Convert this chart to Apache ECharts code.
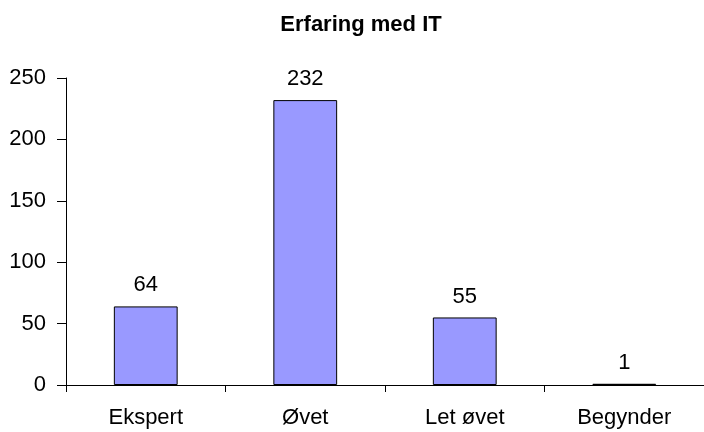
<!DOCTYPE html>
<html>
<head>
<meta charset="utf-8">
<script src="https://cdn.jsdelivr.net/npm/echarts@6/dist/echarts.min.js"></script>
<style>
  html, body { margin: 0; padding: 0; background: #fff; }
  #main { width: 704px; height: 432px; }
</style>
</head>
<body>
<div id="main"></div>
<script>
// data
const kategorier = ['Ekspert', 'Øvet', 'Let øvet', 'Begynder'];
const antal = [64, 232, 55, 1];
const yTicks = [0, 50, 100, 150, 200, 250];

var chartDom = document.getElementById('main');
var myChart = echarts.init(chartDom);
var font = 'Liberation Sans, Arial, sans-serif';

var option = {
  animation: false,
  title: {
    text: 'Erfaring med IT',
    left: 356,
    textAlign: 'center',
    top: 9,
    textStyle: { fontFamily: font, fontSize: 22, fontWeight: 'bold', color: '#000' }
  },
  // plot runs a bit past the right edge, like the cropped original
  grid: { left: 66, width: 644, top: 78, bottom: 47 },
  xAxis: {
    type: 'category',
    data: kategorier,
    axisLine: { lineStyle: { color: '#000', width: 1 } },
    axisTick: { show: true, length: 7, lineStyle: { color: '#000' } },
    axisLabel: { fontFamily: font, fontSize: 22, color: '#000', margin: 22 }
  },
  yAxis: {
    type: 'value',
    min: yTicks[0],
    max: yTicks[yTicks.length - 1],
    interval: 50,
    splitLine: { show: false },
    axisLine: { show: true, lineStyle: { color: '#000', width: 1 } },
    axisTick: { show: true, length: 9, lineStyle: { color: '#000' } },
    axisLabel: { fontFamily: font, fontSize: 22, color: '#000', margin: 20 }
  },
  series: [
    {
      type: 'bar',
      data: antal,
      barWidth: '40%',
      itemStyle: { color: '#9999FF', borderColor: '#000', borderWidth: 1 },
      label: {
        show: true,
        position: 'top',
        distance: 10,
        fontFamily: font,
        fontSize: 22,
        color: '#000'
      }
    }
  ]
};

option && myChart.setOption(option);
</script>
</body>
</html>
